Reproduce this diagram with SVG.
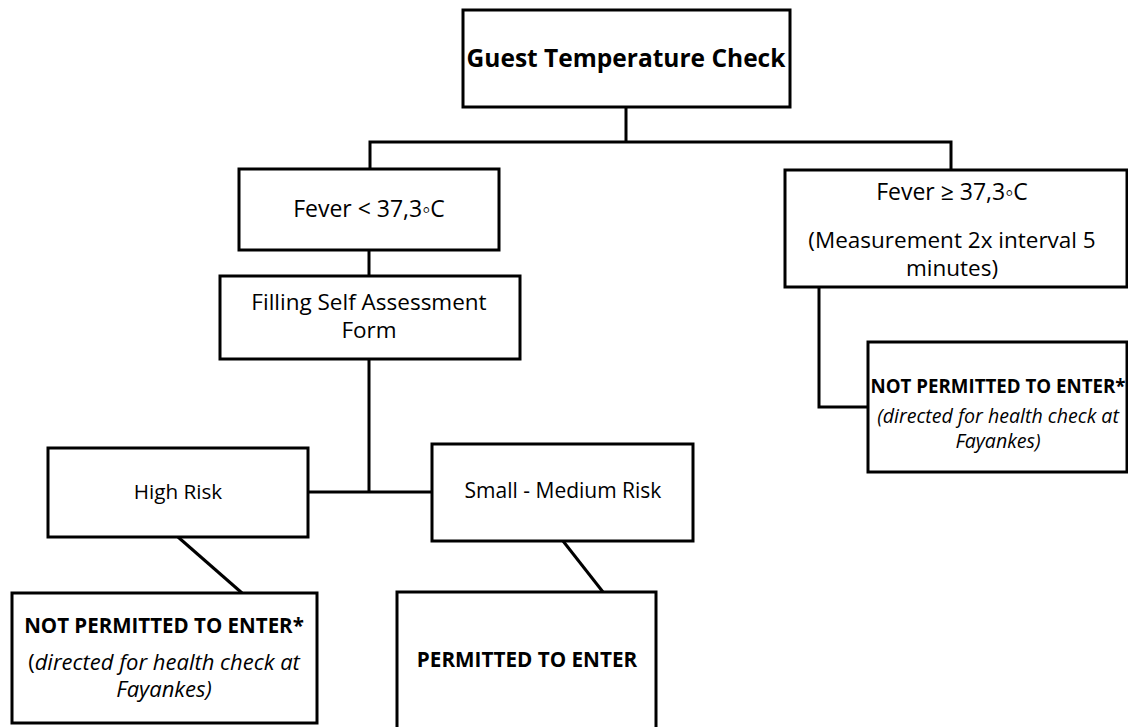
<svg xmlns="http://www.w3.org/2000/svg" width="1128" height="727" viewBox="0 0 1128 727">
<style>
.box{fill:#fff;stroke:#000;stroke-width:3}
.ln{fill:none;stroke:#000;stroke-width:3}
text{font-family:"Open Sans","Liberation Sans",sans-serif;fill:#000;text-anchor:middle}
.b{font-weight:bold}
.i{font-style:italic}
</style>
<rect width="1128" height="727" fill="#fff"/>
<g id="connectors">
<path class="ln" d="M626,107 V142 M370,169 V142 H951 V169"/>
<path class="ln" d="M369,250 V276"/>
<path class="ln" d="M369,359 V492 M308,492 H432"/>
<path class="ln" d="M178,537 L242,593"/>
<path class="ln" d="M563,541 L603,592"/>
<path class="ln" d="M819,287 V407 H868"/>
</g>
<g id="guest-check">
<rect class="box" x="463" y="10" width="327" height="97"/>
<text class="b" x="626" y="67" font-size="24.5">Guest Temperature Check</text>
</g>
<g id="fever-low">
<rect class="box" x="239" y="169" width="260" height="81"/>
<text x="369" y="217" font-size="23">Fever &lt; 37,3◦C</text>
</g>
<g id="self-assessment">
<rect class="box" x="220" y="276" width="300" height="83"/>
<text x="369" y="310" font-size="22.5">Filling Self Assessment<tspan x="369" dy="28">Form</tspan></text>
</g>
<g id="high-risk">
<rect class="box" x="48" y="448" width="260" height="89"/>
<text x="178" y="499" font-size="20.7">High Risk</text>
</g>
<g id="small-medium-risk">
<rect class="box" x="432" y="444" width="261" height="97"/>
<text x="563" y="498" font-size="21">Small - Medium Risk</text>
</g>
<g id="not-permitted-left">
<rect class="box" x="12" y="593" width="305" height="130"/>
<text class="b" x="164" y="633" font-size="20.5">NOT PERMITTED TO ENTER*</text>
<text x="164" y="670" font-size="22">(<tspan class="i">directed for health check at</tspan><tspan class="i" x="164" dy="27">Fayankes)</tspan></text>
</g>
<g id="permitted">
<rect class="box" x="397" y="592" width="259" height="140"/>
<text class="b" x="527" y="667" font-size="20.7">PERMITTED TO ENTER</text>
</g>
<g id="fever-high">
<rect class="box" x="785" y="170" width="342" height="117"/>
<text x="952" y="200" font-size="23">Fever ≥ 37,3◦C</text>
<text x="952" y="248" font-size="22.5">(Measurement 2x interval 5<tspan x="952" dy="28">minutes)</tspan></text>
</g>
<g id="not-permitted-right">
<rect class="box" x="868" y="342" width="259" height="130"/>
<text class="b" x="998" y="393" font-size="18.7">NOT PERMITTED TO ENTER*</text>
<text class="i" x="998" y="423" font-size="19.6">(directed for health check at<tspan x="998" dy="25">Fayankes)</tspan></text>
</g>
</svg>
